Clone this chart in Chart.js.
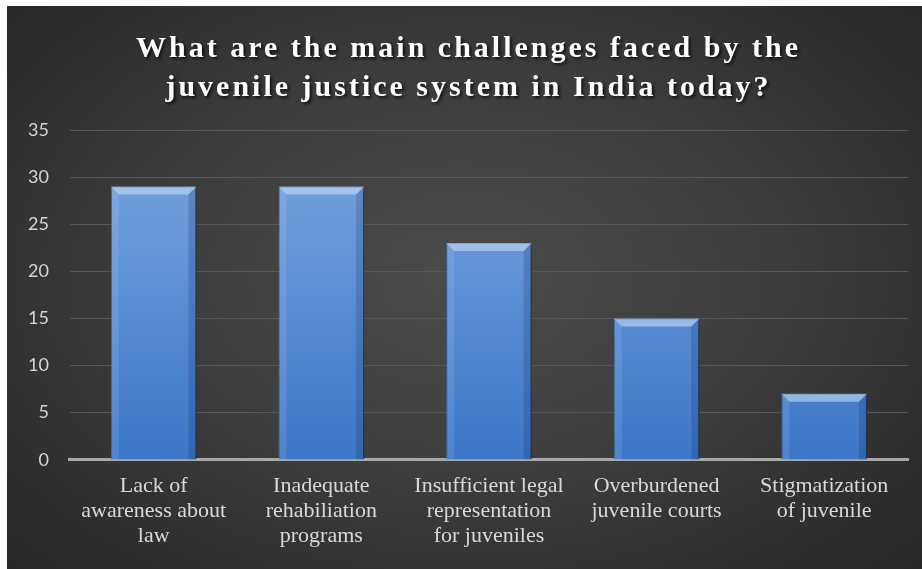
<!DOCTYPE html>
<html>
<head>
<meta charset="utf-8">
<script src="https://cdn.jsdelivr.net/npm/chart.js@4"></script>
<style>
  html, body { margin: 0; padding: 0; background: #fff; }
  #wrap {
    position: absolute; left: 7px; top: 6px; width: 915px; height: 563px;
    background: radial-gradient(ellipse 70% 75% at 50% 48%, #4b4b4b 0%, #3c3c3c 50%, #262626 100%);
  }
  canvas { display: block; }
</style>
</head>
<body>
<div id="wrap"><canvas id="challengesChart" width="915" height="563"></canvas></div>
<script>
// Survey: main challenges faced by the juvenile justice system
var titleLines = ['What are the main challenges faced by the', 'juvenile justice system in India today?'];
var categories = [
  ['Lack of', 'awareness about', 'law'],
  ['Inadequate', 'rehabiliation', 'programs'],
  ['Insufficient legal', 'representation', 'for juveniles'],
  ['Overburdened', 'juvenile courts'],
  ['Stigmatization', 'of juvenile']
];
var responses = [29, 29, 23, 15, 7];
var yTicks = [0, 5, 10, 15, 20, 25, 30, 35];

(function () {
  var el = document.getElementById('challengesChart');
  if (!el || !window.Chart) return;
  var ctx = el.getContext('2d');

  // vertical blue gradient for bar bodies
  function barFill(context) {
    var area = context.chart.chartArea;
    if (!area) return '#4f86cf';
    var g = context.chart.ctx.createLinearGradient(0, area.top, 0, area.bottom);
    g.addColorStop(0, '#7ca6de');
    g.addColorStop(0.5, '#5b8fd5');
    g.addColorStop(1, '#3c76c6');
    return g;
  }

  // drop shadow behind bars
  var barShadow = {
    id: 'barShadow',
    beforeDatasetsDraw: function (chart) {
      var c = chart.ctx;
      c.save();
      c.shadowColor = 'rgba(0,0,0,0.55)';
      c.shadowBlur = 5;
      c.shadowOffsetX = 2;
      c.shadowOffsetY = 2;
    },
    afterDatasetsDraw: function (chart) {
      chart.ctx.restore();
      // bevel on each bar
      var c = chart.ctx;
      var bars = chart.getDatasetMeta(0).data;
      bars.forEach(function (bar) {
        var l = bar.x - bar.width / 2, r = bar.x + bar.width / 2;
        var t = bar.y, b = bar.base, s = 8;
        c.save();
        c.fillStyle = 'rgba(205,225,250,0.55)';
        c.beginPath();
        c.moveTo(l, t); c.lineTo(r, t); c.lineTo(r - s, t + s); c.lineTo(l + s, t + s); c.closePath();
        c.fill();
        c.fillStyle = 'rgba(255,255,255,0.10)';
        c.beginPath();
        c.moveTo(l, t); c.lineTo(l + s, t + s); c.lineTo(l + s, b); c.lineTo(l, b); c.closePath();
        c.fill();
        c.fillStyle = 'rgba(10,30,70,0.18)';
        c.beginPath();
        c.moveTo(r, t); c.lineTo(r - s, t + s); c.lineTo(r - s, b); c.lineTo(r, b); c.closePath();
        c.fill();
        c.restore();
      });
    }
  };

  // two-line spaced title
  var spacedTitle = {
    id: 'spacedTitle',
    afterDraw: function (chart) {
      var c = chart.ctx;
      c.save();
      c.font = 'bold 30px "Liberation Serif", "Times New Roman", serif';
      c.letterSpacing = '3px';
      c.textAlign = 'center';
      c.textBaseline = 'middle';
      c.fillStyle = '#ffffff';
      c.shadowColor = 'rgba(0,0,0,0.7)';
      c.shadowBlur = 3;
      c.shadowOffsetX = 2;
      c.shadowOffsetY = 2;
      var cx = chart.width / 2 + 4;
      c.fillText(titleLines[0], cx, 43);
      c.fillText(titleLines[1], cx, 82);
      c.restore();
    }
  };

  new Chart(ctx, {
    type: 'bar',
    data: {
      labels: categories,
      datasets: [{
        label: 'Responses',
        data: responses,
        backgroundColor: barFill,
        borderColor: '#2f5f9f',
        borderWidth: 1,
        barPercentage: 0.51,
        categoryPercentage: 1
      }]
    },
    options: {
      responsive: false,
      animation: false,
      layout: { padding: { top: 124, right: 14, left: 0, bottom: 6 } },
      plugins: {
        legend: { display: false },
        tooltip: { enabled: false },
        title: { display: false }
      },
      scales: {
        y: {
          min: 0,
          max: 35,
          afterBuildTicks: function (axis) {
            axis.ticks = yTicks.map(function (v) { return { value: v }; });
          },
          ticks: {
            color: '#d4d4d4',
            font: { family: 'Lato, "Open Sans", sans-serif', size: 18 },
            padding: 21
          },
          grid: { color: '#585858', lineWidth: 1, drawTicks: false },
          border: { display: false }
        },
        x: {
          ticks: {
            color: '#d9d9d9',
            font: { family: '"Liberation Serif", "Times New Roman", serif', size: 22, lineHeight: 1.14 },
            maxRotation: 0,
            autoSkip: false,
            padding: 14
          },
          grid: { display: false, drawTicks: false },
          border: { display: true, color: '#a8a8a8', width: 3 }
        }
      }
    },
    plugins: [barShadow, spacedTitle]
  });
})();
</script>
</body>
</html>
